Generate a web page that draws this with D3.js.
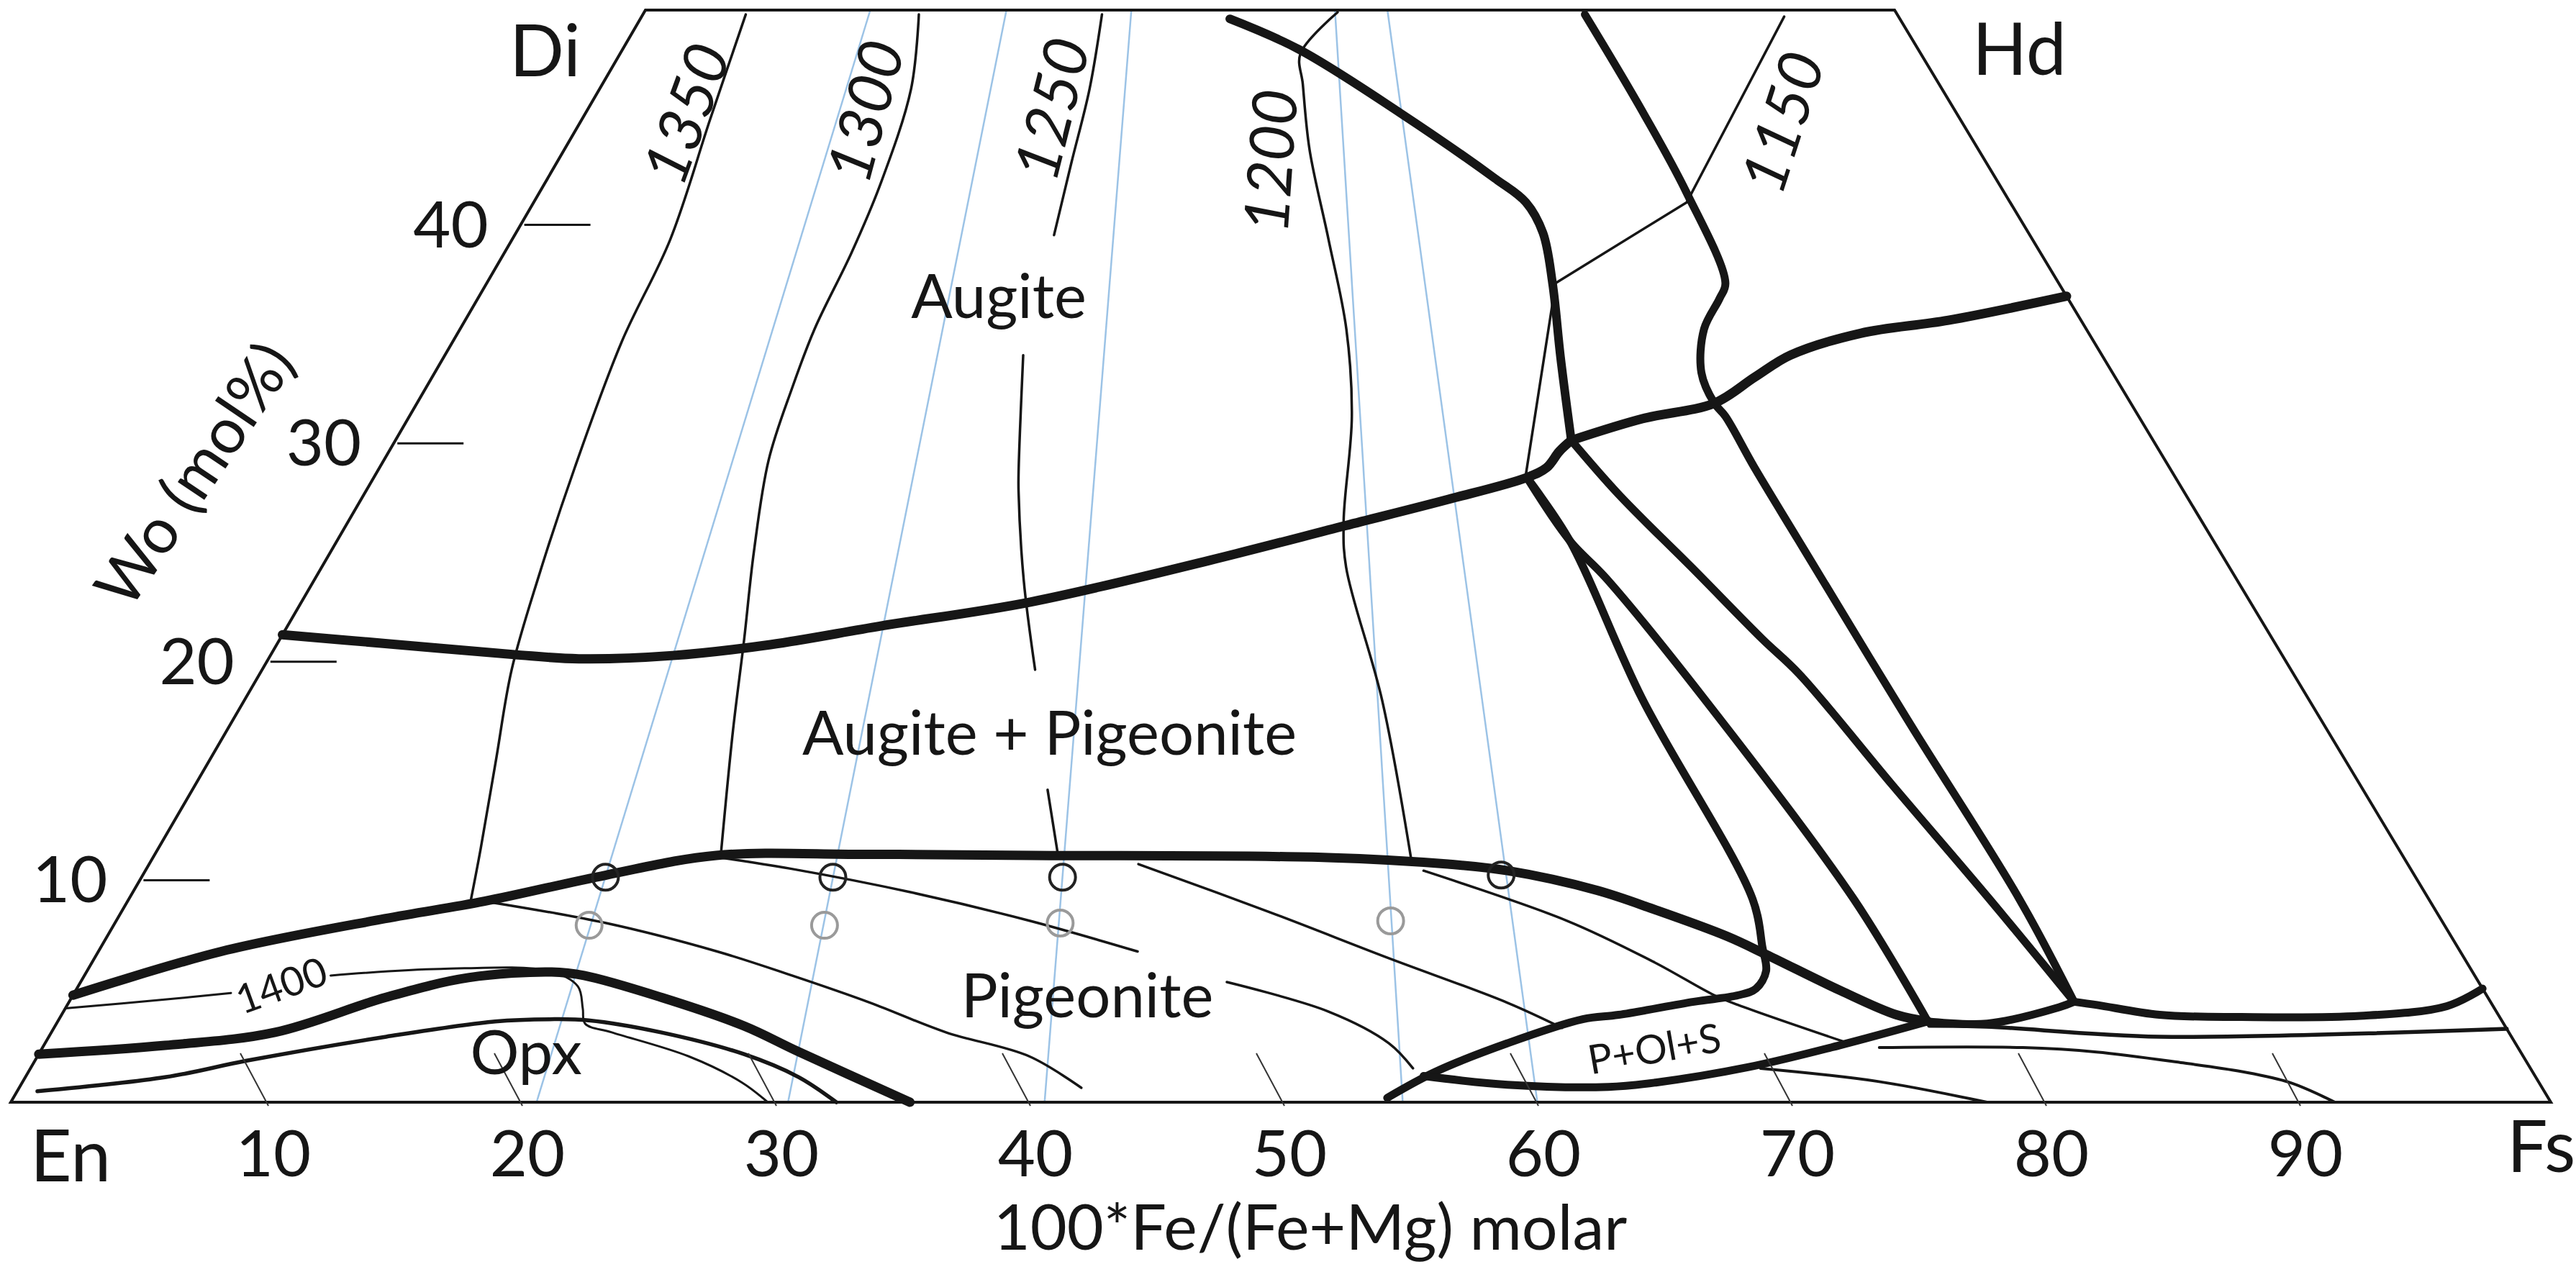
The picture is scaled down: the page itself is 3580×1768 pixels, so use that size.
<!DOCTYPE html>
<html>
<head>
<meta charset="utf-8">
<script src="https://cdn.jsdelivr.net/npm/d3@7"></script>
<style>
  body { margin: 0; background: #fff; }
  svg { display: block; font-family: Lato, "Open Sans", sans-serif; }
</style>
</head>
<body>
<div id="vis"></div>
<script>
//Frame constants
const FRAME_WIDTH = 3580;
const FRAME_HEIGHT = 1768;

//Axis values
const WO_TICKS = [10, 20, 30, 40];
const FE_TICKS = [10, 20, 30, 40, 50, 60, 70, 80, 90];
const CORNER_NAMES = ["En", "Di", "Hd", "Fs"];

//Curves, points are [100*Fe/(Fe+Mg), Wo]
const ISO_1350 = [[8.2,49.8],[9.3,45.0],[10.4,39.5],[10.3,34.8],[10.9,29.1],[11.6,24.0],[12.3,19.8],[13.4,15.7],[14.4,11.6],[14.9,9.2]];
const ISO_1300 = [[22.0,49.8],[23.2,46.4],[23.1,42.0],[22.6,38.9],[21.8,35.4],[21.6,32.7],[21.6,29.4],[22.4,25.2],[23.3,21.2],[24.1,17.0],[25.2,11.3]];
const ISO_1250 = [[36.6,49.8],[36.5,46.4],[36.0,43.0],[35.6,39.7], null,
                  [34.9,34.2],[35.7,29.1],[35.9,28.0],[36.9,23.9],[38.1,19.8], null,
                  [39.4,14.3],[40.2,11.3]];
const ISO_1200 = [[55.4,49.9],[52.3,48.0],[52.4,46.6],[52.7,43.6],[53.7,39.5],[54.5,35.4],[54.5,31.4],[53.7,26.6],[53.7,24.5],[55.1,18.4],[55.9,11.05]];
const ISO_1150 = [[90.9,49.7],[78.1,41.2],[68.0,37.5],[64.0,28.8]];
const ISO_1400 = [[0,4.3],[3.9,4.7],[6.5,5.0], null,
                  [10.3,5.8],[14.8,6.1],[19.4,6.0],[20.8,5.3],[21.3,4.3],[21.6,3.6],[22.8,3.2],[26.2,2.1],[28.6,0.9],[29.8,0]];

//Phase boundaries
const AUG_PIG = [[0,21.4],[5.4,21.0],[12.0,20.5],[15.4,20.3],[20.0,20.45],[24.7,20.95],[30.0,21.8],[37.4,22.9],[46.5,24.8],[53.8,26.4],[59.5,27.6],[64.0,28.6],[65.2,29.05],[66.1,29.8],[66.9,30.3]];
const AUG_FE = [[46.8,49.6],[52.2,48.2],[59.4,45.3],[65.4,42.3],[67.2,41.2],[67.9,39.8],[67.8,37.5],[67.3,34.1],[66.9,30.3]];
const HD_SIDE = [[75.1,49.8],[77.0,45.7],[78.3,41.7],[78.8,37.5],[78.1,36.8],[76.5,35.4],[75.5,33.4],[75.7,32.0],[76.1,31.4],[76.8,29.1],[77.9,25.7],[80.2,17.5],[82.2,9.3],[82.8,4.6]];
const HD_BRANCH = [[66.9,30.3],[71.3,31.3],[75.7,32.0],[78.6,33.2],[81.2,34.2],[86.0,35.2],[91.8,35.8],[100,36.9]];
const FAN_E = [[66.9,30.3],[68.9,27.8],[71.8,24.5],[74.4,21.2],[75.7,19.6],[78.4,14.5],[80.9,9.3],[82.8,4.6]];
const FAN_F = [[64.0,28.6],[65.7,25.7],[67.2,24.0],[70.7,18.5],[75.0,9.3],[76.5,3.7]];
const FAN_G = [[64.0,28.6],[65.7,25.7],[67.7,18.5],[70.6,9.3],[70.5,7.1],[70.4,6.0],[69.8,5.2],[69.0,4.9],[67.1,4.6],[63.9,4.0],[62.4,3.8],[59.2,2.7],[56.2,1.4],[54.2,0.2]];
const PIG_UPPER = [[0,4.9],[5.2,6.9],[11.5,8.4],[15.5,9.2],[20.4,10.4],[25.0,11.3],[31.5,11.35],[39.0,11.3],[52.2,11.2],[57.5,10.9],[60.1,10.6],[63.9,9.7],[66.3,8.8],[69.1,7.6],[70.6,6.75],[73.3,5.1],[75.3,4.0],[76.5,3.7]];
const LENS_LOWER = [[55.7,1.2],[59.0,0.8],[63.0,0.7],[64.9,0.9],[68.7,1.6],[72.6,2.6],[76.5,3.7]];
const J2_J3 = [[76.5,3.7],[78.9,3.6],[82.1,4.35],[82.8,4.6]];
const PIG_FE = [[82.8,4.6],[83.7,4.45],[86.1,4.0],[89.4,3.9],[94.3,3.95],[98.1,4.4],[100,5.2]];
const OPX_UPPER = [[0,2.2],[4.9,2.6],[9.1,3.2],[13.0,4.8],[16.1,5.7],[19.5,5.96],[20.9,5.8],[24.4,4.8],[28.1,3.5],[30.6,2.3],[35.4,0]];
const OPX_LOWER = [[0.8,0.5],[5.6,1.15],[8.5,1.9],[13.7,3.0],[17.9,3.7],[20.1,3.8],[21.7,3.75],[24.8,3.2],[28.4,2.2],[30.8,1.15],[32.5,0]];
const FE_LIMIT = [[76.5,3.5],[78.8,3.46],[85.7,3.0],[100,3.36]];

//Tie lines
const TIE_1 = [[15.5,9.2],[21.1,8.2],[26.2,6.9],[29.6,5.8],[33.1,4.55],[36.4,3.2],[39.9,2.1],[42.1,0.66]];
const TIE_2 = [[25.2,11.2],[28.4,10.7],[34.0,9.6],[39.3,8.3],[44.0,6.9]];
const TIE_3 = [[43.8,10.9],[49.6,8.7],[54.6,6.6],[59.4,4.55],[61.5,3.4]];
const TIE_4 = [[56.4,10.6],[62.4,8.3],[65.8,6.4],[68.0,4.9],[68.9,4.45],[73.0,2.7]];
const TIE_5 = [[47.8,5.5],[52.0,4.15],[54.4,2.7],[55.3,1.55]];
const TIE_6 = [[74.2,2.5],[80.0,2.5],[82.9,2.3],[86.2,1.8],[88.4,1.4],[90.1,0.9],[91.5,0]];
const TIE_7 = [[69.2,1.55],[73.7,0.96],[77.8,0]];

//Blue trends [Fe# at Wo 0, Fe# at Wo 50]
const TRENDS = [[20.7,18.0],[30.6,28.9],[40.7,38.9],[54.8,55.2],[60.1,59.4]];
const AUGITE_PTS = [[20.4,10.3],[30.4,10.3],[40.5,10.3],[59.8,10.4]];
const PIGEONITE_PTS = [[20.4,8.1],[30.5,8.1],[40.6,8.2],[54.8,8.3]];

//Labels
const ISO_NAMES = ["1350", "1300", "1250", "1200", "1150"];
const ISO_AT = [[7.2,45.3],[20.2,45.4],[33.8,45.5],[49.8,43.1],[86.9,44.9]];
const PHASE_NAMES = ["Augite", "Augite + Pigeonite", "Pigeonite", "Opx"];
const PHASE_AT = [[33.0,35.9],[39.3,15.9],[42.1,3.9],[19.9,1.3]];


//Scales for the quadrilateral
const Y_SCALE = d3.scaleLinear().domain([0, 50]).range([1532, 14]);
const LEFT_EDGE = d3.scaleLinear().domain([0, 50]).range([15, 897]);
const RIGHT_EDGE = d3.scaleLinear().domain([0, 50]).range([3545, 2633]);

function project(d) {
    const X_SCALE = d3.scaleLinear()
                        .domain([0, 100])
                        .range([LEFT_EDGE(d[1]), RIGHT_EDGE(d[1])]);
    return [X_SCALE(d[0]), Y_SCALE(d[1])];
}

const smooth = d3.line()
                .defined((d) => d !== null)
                .x((d) => project(d)[0])
                .y((d) => project(d)[1])
                .curve(d3.curveCatmullRom.alpha(0.5));

const straight = d3.line()
                .defined((d) => d !== null)
                .x((d) => project(d)[0])
                .y((d) => project(d)[1]);

const INK = "#161616";

const FRAME = d3.select("#vis")
                .append("svg")
                  .attr("width", FRAME_WIDTH)
                  .attr("height", FRAME_HEIGHT);

FRAME.append("rect")
        .attr("width", FRAME_WIDTH)
        .attr("height", FRAME_HEIGHT)
        .attr("fill", "#fff");

//Blue trend lines
FRAME.append("g")
      .selectAll("line")
      .data(TRENDS)
      .enter()
      .append("line")
        .attr("x1", (d) => project([d[0], 0])[0])
        .attr("y1", (d) => project([d[0], 0])[1])
        .attr("x2", (d) => project([d[1], 50])[0])
        .attr("y2", (d) => project([d[1], 50])[1])
        .attr("stroke", "#9cc3e6")
        .attr("stroke-width", 2.5);

//All curves with their line weight
const CURVES = [
    {pts: ISO_1350, w: 3.5}, {pts: ISO_1300, w: 3.5}, {pts: ISO_1250, w: 3.5},
    {pts: ISO_1200, w: 3.5}, {pts: ISO_1150, w: 3.5, line: straight}, {pts: ISO_1400, w: 3},
    {pts: TIE_1, w: 3.5}, {pts: TIE_2, w: 3.5}, {pts: TIE_3, w: 3.5}, {pts: TIE_4, w: 3.5},
    {pts: TIE_5, w: 3.5}, {pts: TIE_6, w: 4}, {pts: TIE_7, w: 4},
    {pts: OPX_LOWER, w: 5.5}, {pts: FE_LIMIT, w: 5.5},
    {pts: AUG_PIG, w: 13}, {pts: AUG_FE, w: 12}, {pts: HD_SIDE, w: 11}, {pts: HD_BRANCH, w: 13},
    {pts: FAN_E, w: 11}, {pts: FAN_F, w: 11}, {pts: FAN_G, w: 11}, {pts: PIG_UPPER, w: 13},
    {pts: LENS_LOWER, w: 11}, {pts: J2_J3, w: 11}, {pts: PIG_FE, w: 11}, {pts: OPX_UPPER, w: 13}
];

FRAME.append("g")
      .selectAll("path")
      .data(CURVES)
      .enter()
      .append("path")
        .attr("d", (d) => (d.line || smooth)(d.pts))
        .attr("fill", "none")
        .attr("stroke", INK)
        .attr("stroke-width", (d) => d.w)
        .attr("stroke-linecap", "round")
        .attr("stroke-linejoin", "round");

//Outline of the quadrilateral
FRAME.append("path")
      .attr("d", straight([[0,0],[0,50],[100,50],[100,0]]) + "Z")
      .attr("fill", "none")
      .attr("stroke", INK)
      .attr("stroke-width", 4);

//Wo ticks on the left edge
FRAME.append("g")
      .selectAll("line")
      .data(WO_TICKS)
      .enter()
      .append("line")
        .attr("x1", (d) => project([0, d])[0] + 8)
        .attr("x2", (d) => project([0, d])[0] + 100)
        .attr("y1", (d) => project([0, d])[1] - 5)
        .attr("y2", (d) => project([0, d])[1] - 5)
        .attr("stroke", INK)
        .attr("stroke-width", 3);

FRAME.append("g")
      .selectAll("text")
      .data(WO_TICKS)
      .enter()
      .append("text")
        .attr("x", (d) => project([0, d])[0] - 42)
        .attr("y", (d) => project([0, d])[1] + 26)
        .attr("text-anchor", "end")
        .attr("font-size", 90)
        .attr("fill", INK)
        .text((d) => d);

//Fe ticks on the bottom edge, parallel to the Fs-Hd side
FRAME.append("g")
      .selectAll("line")
      .data(FE_TICKS)
      .enter()
      .append("line")
        .attr("x1", (d) => project([d, 0])[0] + 5)
        .attr("y1", (d) => project([d, 0])[1] + 5)
        .attr("x2", (d) => project([d, 0])[0] - 34)
        .attr("y2", (d) => project([d, 0])[1] - 68)
        .attr("stroke", "#333")
        .attr("stroke-width", 2);

FRAME.append("g")
      .selectAll("text")
      .data(FE_TICKS)
      .enter()
      .append("text")
        .attr("x", (d) => project([d, 0])[0] + 12)
        .attr("y", (d) => project([d, 0])[1] + 103)
        .attr("text-anchor", "middle")
        .attr("font-size", 90)
        .attr("fill", INK)
        .text((d) => d);

//Corner names
const CORNER_AT = [[0,0],[0,50],[100,50],[100,0]];
const CORNER_SHIFT = [[27,110,"start"],[-90,92,"end"],[108,90,"start"],[-61,97,"start"]];
FRAME.append("g")
      .selectAll("text")
      .data(CORNER_NAMES)
      .enter()
      .append("text")
        .attr("x", (d, i) => project(CORNER_AT[i])[0] + CORNER_SHIFT[i][0])
        .attr("y", (d, i) => project(CORNER_AT[i])[1] + CORNER_SHIFT[i][1])
        .attr("text-anchor", (d, i) => CORNER_SHIFT[i][2])
        .attr("font-size", 100)
        .attr("fill", INK)
        .text((d) => d);

//Axis titles
FRAME.append("text")
      .attr("x", 1821)
      .attr("y", 1737)
      .attr("text-anchor", "middle")
      .attr("font-size", 88)
      .attr("fill", INK)
      .text("100*Fe/(Fe+Mg) molar");

FRAME.append("text")
      .attr("transform", "translate(268,658) rotate(-56)")
      .attr("text-anchor", "middle")
      .attr("dominant-baseline", "central")
      .attr("font-size", 88)
      .attr("fill", INK)
      .text("Wo (mol%)");

//Isotherm labels
const ISO_ANGLE = [-70, -75, -76, -86, -72];
FRAME.append("g")
      .selectAll("text")
      .data(ISO_NAMES)
      .enter()
      .append("text")
        .attr("transform", (d, i) => "translate(" + project(ISO_AT[i]) + ") rotate(" + ISO_ANGLE[i] + ")")
        .attr("text-anchor", "middle")
        .attr("dominant-baseline", "central")
        .attr("font-size", 86)
        .attr("font-style", "italic")
        .attr("fill", INK)
        .text((d) => d);

FRAME.append("text")
      .attr("transform", "translate(" + project([8.4, 5.4]) + ") rotate(-20)")
      .attr("text-anchor", "middle")
      .attr("dominant-baseline", "central")
      .attr("font-size", 56)
      .attr("fill", INK)
      .text("1400");

//Phase labels
FRAME.append("g")
      .selectAll("text")
      .data(PHASE_NAMES)
      .enter()
      .append("text")
        .attr("x", (d, i) => project(PHASE_AT[i])[0])
        .attr("y", (d, i) => project(PHASE_AT[i])[1])
        .attr("text-anchor", "middle")
        .attr("font-size", 85)
        .attr("fill", INK)
        .text((d) => d);

FRAME.append("text")
      .attr("transform", "translate(" + project([65.1, 2.5]) + ") rotate(-10)")
      .attr("text-anchor", "middle")
      .attr("dominant-baseline", "central")
      .attr("font-size", 56)
      .attr("fill", INK)
      .text("P+Ol+S");

//Composition circles
FRAME.append("g")
      .selectAll("circle")
      .data(AUGITE_PTS)
      .enter()
      .append("circle")
        .attr("cx", (d) => project(d)[0])
        .attr("cy", (d) => project(d)[1])
        .attr("r", 18)
        .attr("fill", "none")
        .attr("stroke", "#222")
        .attr("stroke-width", 4);

FRAME.append("g")
      .selectAll("circle")
      .data(PIGEONITE_PTS)
      .enter()
      .append("circle")
        .attr("cx", (d) => project(d)[0])
        .attr("cy", (d) => project(d)[1])
        .attr("r", 18)
        .attr("fill", "none")
        .attr("stroke", "#9a9a9a")
        .attr("stroke-width", 4);
</script>
</body>
</html>
